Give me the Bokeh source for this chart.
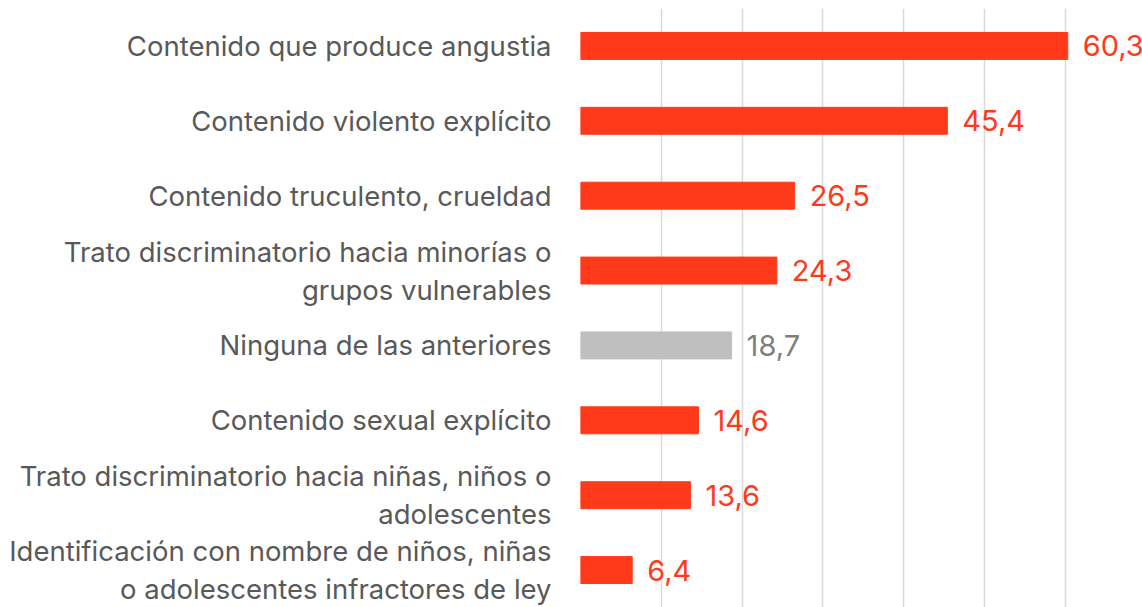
from bokeh.plotting import figure
from bokeh.models import Range1d, FactorRange, FixedTicker, ColumnDataSource
from bokeh.embed import file_html
from bokeh.resources import INLINE
from bokeh.core.properties import value

categories = [
    "Contenido que produce angustia",
    "Contenido violento explícito",
    "Contenido truculento, crueldad",
    "Trato discriminatorio hacia minorías o\ngrupos vulnerables",
    "Ninguna de las anteriores",
    "Contenido sexual explícito",
    "Trato discriminatorio hacia niñas, niños o\nadolescentes",
    "Identificación con nombre de niños, niñas\no adolescentes infractores de ley",
]
values = [60.3, 45.4, 26.5, 24.3, 18.7, 14.6, 13.6, 6.4]
value_labels = ["60,3", "45,4", "26,5", "24,3", "18,7", "14,6", "13,6", "6,4"]
bar_colors = ["#FF3A1A"] * 4 + ["#BFBFBF"] + ["#FF3A1A"] * 3
text_colors = ["#FF3A1A"] * 4 + ["#7F7F7F"] + ["#FF3A1A"] * 3
grid_ticks = [0, 10, 20, 30, 40, 50, 60]

src = ColumnDataSource(dict(cat=categories, val=values, lab=value_labels,
                            bc=bar_colors, tc=text_colors))

p = figure(width=1142, height=607, output_backend="svg", toolbar_location=None,
           x_range=Range1d(0, 69.55), y_range=FactorRange(factors=categories[::-1]),
           min_border_left=580, min_border_right=0, min_border_top=8, min_border_bottom=0)
p.outline_line_color = None
p.background_fill_color = "white"
p.border_fill_color = "white"

p.hbar(y="cat", right="val", left=0, height=0.36, color="bc", source=src)
p.text(x="val", y="cat", text="lab", text_color="tc", x_offset=15,
       text_align="left", text_baseline="middle", text_font=value("Inter"),
       text_font_size="29px", source=src)

p.xaxis.visible = False
p.xgrid.ticker = FixedTicker(ticks=grid_ticks)
p.xgrid.grid_line_color = "#D9D9D9"
p.xgrid.grid_line_width = 1.5
p.ygrid.grid_line_color = None

ya = p.yaxis[0]
ya.axis_line_color = None
ya.major_tick_line_color = None
ya.minor_tick_line_color = None
ya.major_label_text_font = "Inter"
ya.major_label_text_font_size = "27.5px"
ya.major_label_text_color = "#595959"
ya.major_label_text_line_height = 1.12
ya.major_label_standoff = 23

open("out.html", "w").write(file_html(p, INLINE))
